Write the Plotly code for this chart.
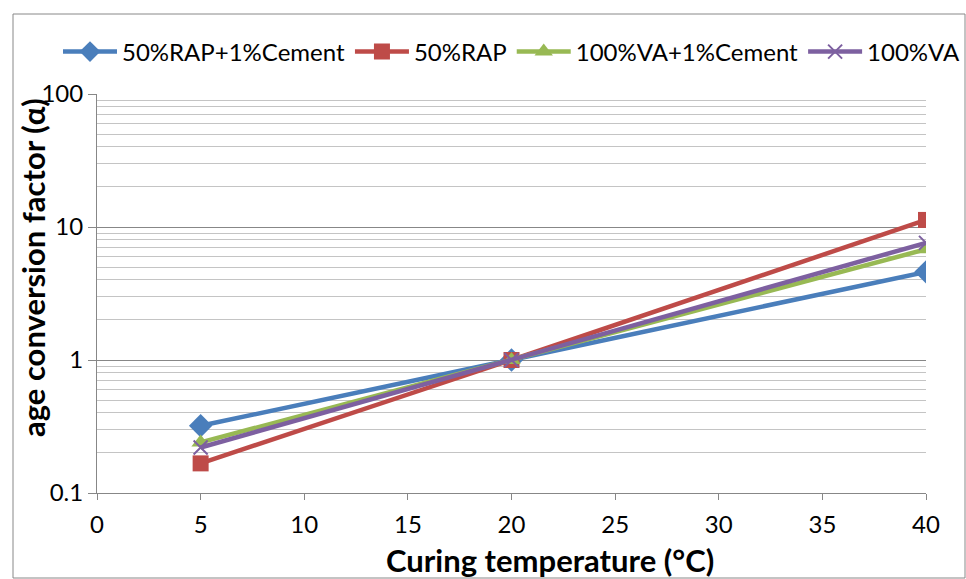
import plotly.graph_objects as go

temps = [5, 20, 40]
s_names = ["50%RAP+1%Cement", "50%RAP", "100%VA+1%Cement", "100%VA"]
blue_vals = [0.32, 1.0, 4.6]
red_vals = [0.167, 1.0, 11.3]
green_vals = [0.24, 1.0, 6.8]
purple_vals = [0.22, 1.0, 7.6]
x_ticks = [0, 5, 10, 15, 20, 25, 30, 35, 40]
y_ticks = [0.1, 1, 10, 100]
y_tick_text = ["0.1", "1", "10", "100"]

FONT = "Lato"
fig = go.Figure()
styles = [
    (blue_vals, "#4A7EBB", dict(symbol="diamond", size=18)),
    (red_vals, "#BE4B48", dict(symbol="square", size=16)),
    (green_vals, "#98B954", dict(symbol="triangle-up", size=16)),
    (purple_vals, "#7D60A0", dict(symbol="x-thin", size=14, line=dict(width=2, color="#7D60A0"))),
]
for name, (vals, col, mk) in zip(s_names, styles):
    m = dict(color=col, **mk)
    fig.add_trace(go.Scatter(x=temps, y=vals, name=name, mode="lines+markers",
                             line=dict(color=col, width=4.5), marker=m))

W, H = 966, 579
l, r, t, b = 97, 40, 94, 86
pw, ph = W - l - r, H - t - b

def px_x(p):
    return (p - l) / pw

def px_y(p):
    return (H - b - p) / ph

fig.update_layout(
    width=W, height=H, margin=dict(l=l, r=r, t=t, b=b),
    paper_bgcolor="white", plot_bgcolor="white",
    font=dict(family=FONT, size=24, color="black"),
    legend=dict(orientation="h", x=px_x(58), xanchor="left", y=px_y(52), yanchor="middle",
                font=dict(size=24), tracegroupgap=0, itemwidth=54,
                bgcolor="rgba(0,0,0,0)"),
    xaxis=dict(range=[0, 40], tickvals=x_ticks, showgrid=False, showline=True,
               linecolor="#878787", linewidth=1, ticks="outside", ticklen=6, tickcolor="#878787",
               zeroline=False, tickfont=dict(size=24), ticklabelstandoff=4),
    yaxis=dict(type="log", range=[-1, 2], tickvals=y_ticks, ticktext=y_tick_text,
               showgrid=True, gridcolor="#878787", gridwidth=1, showline=True,
               linecolor="#878787", linewidth=1, ticks="outside", ticklen=8, tickcolor="#878787",
               zeroline=False, tickfont=dict(size=24),
               minor=dict(dtick="D1", showgrid=True, gridcolor="#C4C4C4", gridwidth=1, ticks="")),
    annotations=[
        dict(text="<b>Curing temperature (°C)</b>", xref="paper", yref="paper",
             x=px_x(550), y=px_y(560), xanchor="center", yanchor="middle",
             showarrow=False, font=dict(size=31)),
        dict(text="<b>age conversion factor (α)</b>", xref="paper", yref="paper",
             x=px_x(33), y=px_y(268), xanchor="center", yanchor="middle", textangle=-90,
             showarrow=False, font=dict(size=31)),
    ],
)
fig.add_shape(type="rect", xref="paper", yref="paper",
              x0=px_x(13), x1=px_x(965), y0=px_y(578), y1=px_y(14),
              line=dict(color="#888888", width=1), layer="below")
fig.write_html("out.html")
